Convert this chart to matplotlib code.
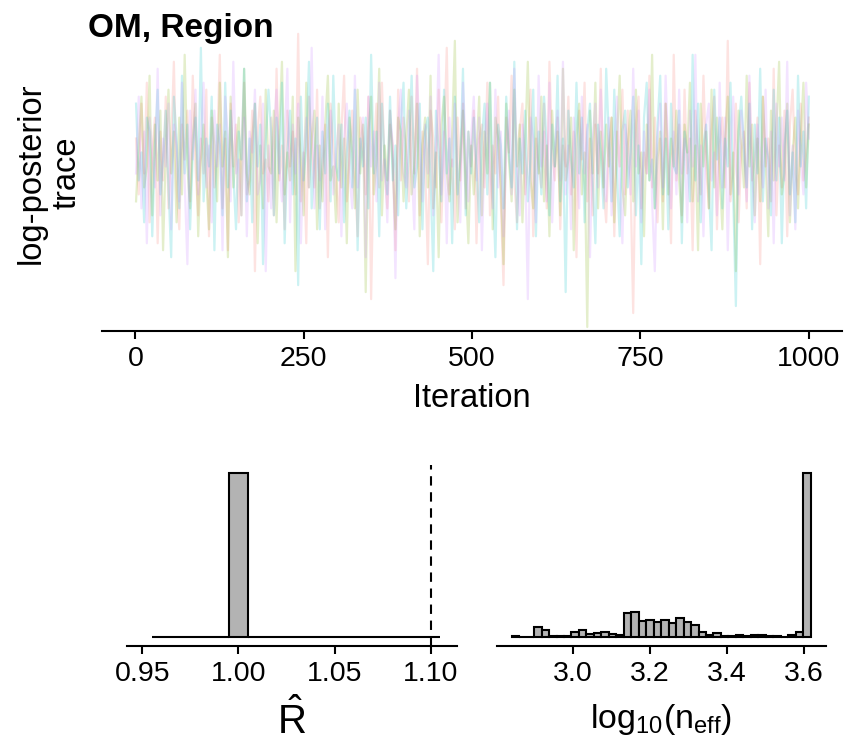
import numpy as np
import matplotlib
matplotlib.use("Agg")
import matplotlib.pyplot as plt

plt.rcParams['font.family'] = ['Liberation Sans', 'DejaVu Sans']
plt.rcParams['mathtext.fontset'] = 'custom'
plt.rcParams['mathtext.rm'] = 'Liberation Sans'
plt.rcParams['mathtext.it'] = 'Liberation Sans:italic'
plt.rcParams['mathtext.bf'] = 'Liberation Sans:bold'

# ---------------- data ----------------
title = "OM, Region"
chain_colors = ["#F8766D", "#7CAE00", "#00BFC4", "#C77CFF"]
n_iter = 1000

# log-posterior (offset from its mean), every 4th iteration, per chain
chain1 = [3, -5, 8, -2, 11, -9, 1, 6, -12, 4, -3, 9, -7, 2, 14, -4, -10, 5, 0, 7, -6, 12, -1, -8, 3,
          -2, 10, -11, 6, -4, 1, 15, -7, 3, -13, 8, -1, 5, -9, 2, 11, -5, -3, 7, -16, 4, 9, -2, 0, -6,
          6, -8, 13, -3, 2, -10, 7, -1, 4, -5, 18, -6, 1, -12, 9, 3, -4, 10, -7, -1, 5, -14, 8, 2, -3,
          -9, 4, 12, -6, 0, 7, -2, -11, 6, 3, -5, 9, -20, 1, 8, -4, 11, -1, -7, 5, 2, -13, 10, -3, 6,
          1, -6, 9, -2, 13, -8, 4, -1, -15, 7, 3, -4, 10, -9, 2, 16, -5, 0, -10, 6, -3, 8, -7, 4, -1,
          7, -12, 3, 5, -4, 11, -8, 2, -2, 9, -6, -18, 6, 1, 12, -3, -9, 4, 8, -5, 0, 10, -11, 3, -1,
          -4, 8, -7, 14, 1, -3, 6, -10, 2, -1, 9, -5, 4, -14, 7, 0, 11, -6, 3, -8, 5, -2, 13, -4, -9,
          2, 6, -11, 4, -1, 10, -5, 7, -3, -22, 5, 9, -7, 1, -2, 12, -4, 6, -9, 3, -6, 8, 0, -12, 15,
          -3, 5, -8, 10, -2, 3, -13, 7, 1, -5, 12, -1, -7, 4, 9, -10, 2, 6, -4, 17, -6, -2, 8, -9, 1,
          4, -7, 11, -3, 0, 6, -15, 9, -1, 3, -6, 13, -8, 2, -4, 7, -11, 5, 10, -2, -5, 8, -3, 1, 6]
chain2 = [-6, 2, 9, -4, -1, 12, -8, 5, -3, 7, -13, 1, 10, -2, 4, -9, 6, -5, 15, -1, -7, 3, 8, -11, 0,
          5, -3, -10, 7, 2, -6, 11, -1, 4, -14, 9, -4, 1, 6, -8, 13, -2, -5, 3, 8, -12, 2, -7, 10, -1,
          -2, 7, -9, 4, 14, -5, 1, -3, 9, -16, 6, 0, -8, 11, -4, 3, 7, -10, 2, -6, 5, 12, -3, -1, -9,
          8, -4, 3, -12, 6, 1, -7, 10, -2, 5, -19, 4, 9, -5, 0, 13, -8, 2, -3, 7, -1, -10, 6, 4, -6,
          3, 10, -5, -1, 8, -11, 2, 6, -4, 12, -7, 1, -14, 5, 9, -2, -6, 4, 17, -9, 0, 7, -3, -12, 2,
          -5, 1, 9, -8, 4, -2, 11, -10, 6, 3, -4, -15, 8, 0, -6, 10, -1, 5, -9, 2, 14, -3, -7, 6, -2,
          9, -6, 2, -11, 7, -1, 4, -8, 13, -3, 0, 6, -13, 3, 8, -5, 1, -24, 7, -2, 11, -7, 4, -4, 5,
          -1, 6, -9, 3, 12, -4, -8, 2, 7, -6, 10, -2, 1, -11, 5, -3, 15, -7, 0, 4, -10, 8, -5, 3, -1,
          7, -3, -9, 5, 1, 11, -6, 2, -13, 8, -1, 4, -7, 10, -4, 6, -2, -10, 3, 9, -5, 1, -16, 7, 2,
          -4, 12, -1, 5, -8, 3, -6, 9, 0, -11, 7, -3, 4, 14, -5, -2, 8, -9, 1, 6, -7, 3, 11, -4, 5]
chain3 = [8, -3, 1, -9, 6, 4, -11, 2, 10, -5, 0, 7, -4, -14, 9, 3, -7, 12, -2, 5, -10, 1, 6, -3, 16,
          -6, 3, -1, 9, -13, 5, 2, -8, 11, -4, 7, -2, -10, 4, 0, 13, -6, 3, -9, 8, -1, 5, -15, 2, 10,
          4, -8, 6, -2, 11, -12, 1, 7, -5, 3, -18, 9, -3, 2, 14, -7, 0, 6, -10, 4, -2, 8, -6, 12, -1,
          -3, 5, -9, 1, 7, -4, 10, -13, 3, -1, 6, -7, 15, -2, 4, -11, 8, 0, -5, 9, -3, 2, -8, 5, 11,
          -7, 2, 12, -4, -1, 8, -10, 4, 6, -3, -16, 7, 1, -6, 10, -2, 3, -12, 9, -5, 0, 13, -8, 4, -2,
          6, -1, -9, 3, 8, -5, 11, -3, -14, 5, 2, -7, 9, 1, -4, 14, -10, 3, -2, 7, -6, 0, 10, -11, 4,
          -5, 9, 2, -8, 5, -1, 12, -6, 3, -19, 7, 0, -4, 11, -2, 6, -9, 4, 8, -3, -12, 5, 1, -7, 13,
          3, -6, 10, -2, -11, 4, 7, -4, 1, 9, -8, 2, -15, 6, 11, -3, 0, -7, 5, 12, -5, 3, -10, 8, -1,
          -2, 7, -12, 4, 1, -6, 15, -3, 8, -9, 2, 5, -4, -13, 10, 0, 6, -7, 3, -1, 11, -5, -21, 4, 9,
          1, -4, 8, -10, 5, -2, 13, -6, 3, 0, -8, 10, -3, 6, -12, 2, 7, -5, 1, -9, 12, -1, 4, -7, 9]
chain4 = [-2, 9, -7, 4, -12, 6, 1, -4, 13, -8, 3, -1, 8, -10, 5, 2, -6, 11, -3, -15, 7, 0, 10, -5, 3,
          11, -4, 2, -9, 7, -1, 5, -13, 9, 3, -6, 14, -2, 0, -8, 6, -11, 4, 1, 10, -5, -3, 8, -16, 2,
          -7, 4, 10, -1, -6, 3, 13, -9, 5, -2, 8, -12, 0, 6, -4, 16, -7, 2, -3, 9, -10, 4, 7, -5, 1,
          5, -11, 3, 8, -2, -7, 12, -4, 1, 6, -14, 9, -1, 4, -6, 11, -3, 0, -9, 7, 2, -17, 5, 10, -2,
          -4, 7, -1, -10, 12, 3, -6, 5, -2, 9, -8, 1, 15, -5, 4, -12, 6, -1, 8, -3, -9, 11, 2, -6, 3,
          9, -3, 6, -13, 2, 8, -1, -7, 10, -4, 4, -11, 1, 7, -5, 13, -2, -8, 5, 0, -20, 6, 3, -9, 12,
          -1, 4, -6, 11, -9, 1, 7, -3, 14, -5, 2, -10, 6, 0, -7, 9, -2, 5, -14, 3, 8, -4, 10, -1, -6,
          6, -8, 2, 9, -3, -12, 5, 1, -5, 13, -1, 7, -9, 4, -2, 10, -6, -16, 3, 8, -4, 12, 0, -7, 4,
          -5, 10, -2, 3, -9, 7, -1, 15, -6, 2, -11, 5, 8, -3, 1, -8, 11, -4, 6, -13, 2, 9, -1, -5, 7,
          3, -6, 12, -2, -9, 5, 1, -4, 10, -7, 4, -12, 8, -1, 6, -3, 14, -8, 2, -10, 7, 0, -5, 11, 3]
chains = [chain1, chain2, chain3, chain4]
trace_xticks = [0, 250, 500, 750, 1000]

# R-hat histogram
rhat_bin_start = 0.955
rhat_bin_width = 0.01
rhat_counts = [0, 0, 0, 0, 413, 0, 0, 0, 0, 0, 0, 0, 0, 0, 0]
rhat_threshold = 1.1
rhat_ticks = [0.95, 1.00, 1.05, 1.10]

# log10(n_eff) histogram
neff_bin_start = 2.84
neff_bin_end = 3.617
neff_counts = [1, 0, 0, 10, 7, 1, 1, 1, 5, 7, 3, 4, 5, 3, 2, 24, 25, 16, 17, 15,
               17, 14, 19, 15, 12, 5, 2, 4, 1, 1, 2, 1, 2, 2, 1, 1, 0, 2, 5, 160]
neff_ticks = [3.0, 3.2, 3.4, 3.6]

# ---------------- figure ----------------
W, H = 854, 744
fig = plt.figure(figsize=(W / 100, H / 100), dpi=100)


def px_axes(x0, y0, x1, y1):
    return fig.add_axes([x0 / W, 1 - y1 / H, (x1 - x0) / W, (y1 - y0) / H])


def style(ax):
    for s in ['top', 'right', 'left']:
        ax.spines[s].set_visible(False)
    ax.spines['bottom'].set_linewidth(1.5)
    ax.set_yticks([])
    ax.tick_params(axis='x', length=6, width=1.5, labelsize=20.5, pad=5, colors='black')
    ax.patch.set_alpha(0)


# trace panel
ax = px_axes(101.7, 15, 842.5, 330.5)
style(ax)
for vals, col in zip(chains, chain_colors):
    it = np.linspace(1, n_iter, len(vals))
    ax.plot(it, vals, color=col, alpha=0.2, lw=1.6)
ax.set_xlim(-50, 1050)
ax.set_ylim(-24.5, 20.7)
ax.set_xticks(trace_xticks)
ax.set_xticklabels([str(t) for t in trace_xticks])
ax.set_xlabel("Iteration", fontsize=23.5, labelpad=8)

fig.text(88 / W, 1 - 36.5 / H, title, fontsize=24, fontweight='bold', va='baseline', ha='left')
fig.text(49 / W, 1 - 173 / H, "log-posterior\ntrace", fontsize=23.5, rotation=90,
         ha='center', va='center', linespacing=1.2, multialignment='center')

# R-hat panel
ax2 = px_axes(126.7, 465, 456.7, 645.5)
style(ax2)
edges = rhat_bin_start + rhat_bin_width * np.arange(len(rhat_counts))
ax2.bar(edges, rhat_counts, width=rhat_bin_width, align='edge', color='#B3B3B3',
        edgecolor='black', linewidth=1.5)
ax2.axvline(rhat_threshold, color='black', lw=1.5, linestyle=(0, (4.5, 3.2)))
ax2.set_xlim(0.9419, 1.1135)
ax2.set_ylim(-0.05 * max(rhat_counts), 1.05 * max(rhat_counts))
ax2.set_xticks(rhat_ticks)
ax2.set_xticklabels(["%.2f" % t for t in rhat_ticks])
ax2.set_xlabel(r'$\hat{\mathrm{R}}$', fontsize=29, labelpad=9)

# n_eff panel
ax3 = px_axes(496.7, 465, 826, 645.5)
style(ax3)
nb = len(neff_counts)
bw = (neff_bin_end - neff_bin_start) / nb
e3 = neff_bin_start + bw * np.arange(nb)
ax3.bar(e3, neff_counts, width=bw, align='edge', color='#B3B3B3',
        edgecolor='black', linewidth=1.5)
ax3.set_xlim(2.801, 3.657)
ax3.set_ylim(-0.05 * max(neff_counts), 1.05 * max(neff_counts))
ax3.set_xticks(neff_ticks)
ax3.set_xticklabels(["%.1f" % t for t in neff_ticks])
ax3.set_xlabel(r'$\mathrm{log}_{10}(\mathrm{n}_{\mathrm{eff}})$', fontsize=24.5, labelpad=11)

fig.savefig("out.png", dpi=100)
